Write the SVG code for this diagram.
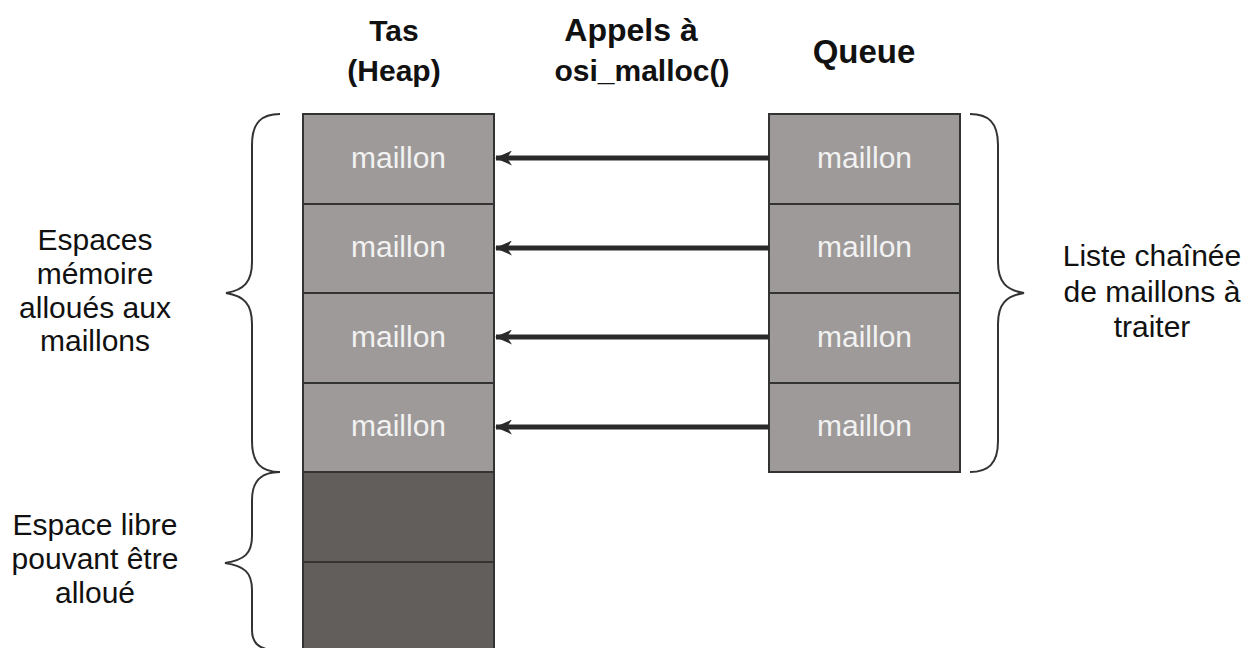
<svg xmlns="http://www.w3.org/2000/svg" width="1247" height="648" viewBox="0 0 1247 648">
<defs>
<style>
.cell{fill:#9e9a99;stroke:#333;stroke-width:2}
.free{fill:#625e5c;stroke:#333;stroke-width:2}
.lbl{font-family:"Liberation Sans",Arial,sans-serif;font-size:30px;fill:#f2f2f2;text-anchor:middle}
.txt{font-family:"Liberation Sans",Arial,sans-serif;font-size:30px;fill:#111;text-anchor:middle}
.hdr{font-family:"Liberation Sans",Arial,sans-serif;font-size:30px;font-weight:bold;fill:#111;text-anchor:middle}
.brace{fill:none;stroke:#333;stroke-width:2}
.arrow{stroke:#2a2a2a;stroke-width:5;fill:none}
</style>
<marker id="ah" viewBox="0 0 17 15" refX="16" refY="7.5" markerWidth="17" markerHeight="15" orient="auto" markerUnits="userSpaceOnUse">
<path d="M17,7.5 L0,0 L5,7.5 L0,15 Z" fill="#2a2a2a"/>
</marker>
</defs>
<rect width="1247" height="648" fill="#fff"/>
<g id="headers">
<text class="hdr" x="394" y="41">Tas</text>
<text class="hdr" x="394" y="81">(Heap)</text>
<text class="hdr" x="631" y="41" style="font-size:32px">Appels à</text>
<text class="hdr" x="642" y="81">osi_malloc()</text>
<text class="hdr" x="864" y="63" style="font-size:33px">Queue</text>
</g>
<g id="heap">
<g id="heap1"><rect class="cell" x="303" y="114" width="191" height="90"/><text class="lbl" x="398.5" y="168">maillon</text></g>
<g id="heap2"><rect class="cell" x="303" y="204" width="191" height="89"/><text class="lbl" x="398.5" y="257">maillon</text></g>
<g id="heap3"><rect class="cell" x="303" y="293" width="191" height="90"/><text class="lbl" x="398.5" y="347">maillon</text></g>
<g id="heap4"><rect class="cell" x="303" y="383" width="191" height="89"/><text class="lbl" x="398.5" y="436">maillon</text></g>
<g id="heap5"><rect class="free" x="303" y="472" width="191" height="90"/></g>
<g id="heap6"><rect class="free" x="303" y="562" width="191" height="95"/></g>
</g>
<g id="queue">
<g id="q1"><rect class="cell" x="769" y="114" width="191" height="90"/><text class="lbl" x="864.5" y="168">maillon</text></g>
<g id="q2"><rect class="cell" x="769" y="204" width="191" height="89"/><text class="lbl" x="864.5" y="257">maillon</text></g>
<g id="q3"><rect class="cell" x="769" y="293" width="191" height="90"/><text class="lbl" x="864.5" y="347">maillon</text></g>
<g id="q4"><rect class="cell" x="769" y="383" width="191" height="89"/><text class="lbl" x="864.5" y="436">maillon</text></g>
</g>
<g id="connectors">
<line class="arrow" x1="769" y1="158" x2="496" y2="158" marker-end="url(#ah)"/>
<line class="arrow" x1="769" y1="248" x2="496" y2="248" marker-end="url(#ah)"/>
<line class="arrow" x1="769" y1="337" x2="496" y2="337" marker-end="url(#ah)"/>
<line class="arrow" x1="769" y1="427" x2="496" y2="427" marker-end="url(#ah)"/>
</g>
<g id="braces">
<path class="brace" d="M280,114 C262,114 252,122 252,145 L252,262 C252,282 244,290 226,293 C244,296 252,304 252,324 L252,441 C252,464 262,472 280,472"/>
<path class="brace" d="M280,472 C262,472 252,480 252,500 L252,536 C252,554 244,560 225,563 C244,566 252,572 252,590 L252,630 C252,644 260,648 270,650"/>
<path class="brace" d="M970,114 C988,114 998,122 998,145 L998,262 C998,282 1006,290 1024,293 C1006,296 998,304 998,324 L998,441 C998,464 988,472 970,472"/>
</g>
<g id="labels">
<text class="txt" x="95" y="250">Espaces</text>
<text class="txt" x="95" y="284">mémoire</text>
<text class="txt" x="95" y="318">alloués aux</text>
<text class="txt" x="95" y="351">maillons</text>
<text class="txt" x="1152" y="266">Liste chaînée</text>
<text class="txt" x="1152" y="302">de maillons à</text>
<text class="txt" x="1152" y="337">traiter</text>
<text class="txt" x="95" y="535">Espace libre</text>
<text class="txt" x="95" y="569">pouvant être</text>
<text class="txt" x="95" y="603">alloué</text>
</g>
</svg>
